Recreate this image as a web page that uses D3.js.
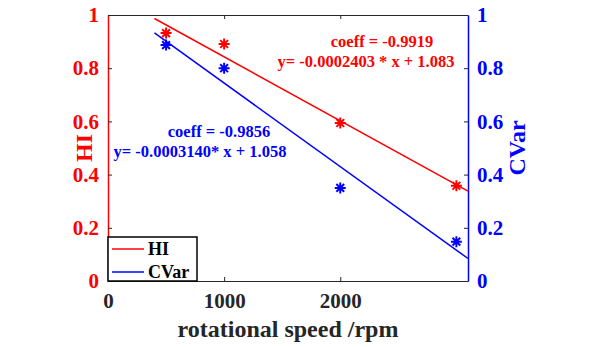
<!DOCTYPE html>
<html>
<head>
<meta charset="UTF-8" />
<title>HI and CVar vs rotational speed</title>
<style>
	html, body { margin: 0; padding: 0; background: #fff; overflow: hidden; }
	text { font-family: "Liberation Serif", "Times New Roman", serif; font-weight: bold; }
</style>
<script src="https://d3js.org/d3.v7.min.js"></script>
</head>
<body>
<svg></svg>
<script>
	// data
	const speed = [500, 1000, 2000, 3000];
	const hiValues = [0.932, 0.891, 0.594, 0.358];
	const cvarValues = [0.887, 0.800, 0.350, 0.148];
	const hiFit = { slope: -0.0002403, intercept: 1.083, coeff: -0.9919 };
	const cvarFit = { slope: -0.0003140, intercept: 1.058, coeff: -0.9856 };
	const fitRange = [400, 3100];
	const xTicks = [0, 1000, 2000];
	const yTicks = [0, 0.2, 0.4, 0.6, 0.8, 1];

	const width = 597, height = 347;
	const m = { left: 108, right: 129, top: 15, bottom: 66 };
	const RED = '#ff0000', BLUE = '#0000ff', DARK = '#262626';

	const svg = d3.select('svg').attr('width', width).attr('height', height);

	const x = d3.scaleLinear().domain([0, 3100]).range([m.left, width - m.right]);
	const yL = d3.scaleLinear().domain([0, 1]).range([height - m.bottom, m.top]);
	const yR = d3.scaleLinear().domain([0, 1]).range([height - m.bottom, m.top]);

	const fmt = d => d === 0 || d === 1 ? String(d) : d.toFixed(1);

	// bottom and top axes
	svg.append('g')
		.attr('transform', `translate(0,${height - m.bottom})`)
		.call(d3.axisBottom(x).tickValues(xTicks).tickFormat(d3.format('d')).tickSizeInner(-4).tickSizeOuter(0).tickPadding(12))
		.call(g => g.selectAll('text').attr('fill', DARK).style('font-size', '21px'))
		.call(g => g.selectAll('line, path').attr('stroke', DARK));
	svg.append('g')
		.attr('transform', `translate(0,${m.top})`)
		.call(d3.axisTop(x).tickValues(xTicks).tickSizeInner(-4).tickSizeOuter(0).tickFormat(''))
		.call(g => g.selectAll('line, path').attr('stroke', DARK));

	// left axis (HI)
	svg.append('g')
		.attr('transform', `translate(${m.left},0)`)
		.call(d3.axisLeft(yL).tickValues(yTicks).tickFormat(fmt).tickSizeInner(-4).tickSizeOuter(0).tickPadding(9))
		.call(g => g.select('path').attr('stroke', RED).attr('stroke-width', 1.5))
		.call(g => g.selectAll('line').attr('stroke', DARK))
		.call(g => g.selectAll('text').attr('fill', RED).style('font-size', '21px'));

	// right axis (CVar)
	svg.append('g')
		.attr('transform', `translate(${width - m.right},0)`)
		.call(d3.axisRight(yR).tickValues(yTicks).tickFormat(fmt).tickSizeInner(-4).tickSizeOuter(0).tickPadding(9))
		.call(g => g.select('path').attr('stroke', BLUE).attr('stroke-width', 1.5))
		.call(g => g.selectAll('line').attr('stroke', DARK))
		.call(g => g.selectAll('text').attr('fill', BLUE).style('font-size', '21px'));

	// axis titles
	svg.append('text')
		.attr('transform', `translate(92,${(m.top + height - m.bottom) / 2}) rotate(-90)`)
		.attr('text-anchor', 'middle').attr('fill', RED).style('font-size', '24px')
		.text('HI');
	svg.append('text')
		.attr('transform', `translate(525,${(m.top + height - m.bottom) / 2}) rotate(-90)`)
		.attr('text-anchor', 'middle').attr('fill', BLUE).style('font-size', '24px')
		.text('CVar');
	svg.append('text')
		.attr('x', 288).attr('y', 337)
		.attr('text-anchor', 'middle').attr('fill', DARK).style('font-size', '24px')
		.text('rotational speed /rpm');

	// fit lines
	const fitLine = (fit, y, color) => {
		svg.append('line')
			.attr('x1', x(fitRange[0])).attr('y1', y(fit.slope * fitRange[0] + fit.intercept))
			.attr('x2', x(fitRange[1])).attr('y2', y(fit.slope * fitRange[1] + fit.intercept))
			.attr('stroke', color).attr('stroke-width', 1.5);
	};
	fitLine(hiFit, yL, RED);
	fitLine(cvarFit, yR, BLUE);

	// 8-armed asterisk markers
	const r = 5.5, k = r * Math.SQRT1_2;
	const star = `M${-r},0H${r}M0,${-r}V${r}M${-k},${-k}L${k},${k}M${-k},${k}L${k},${-k}`;
	const markers = (vals, y, color) => {
		svg.append('g').selectAll('path')
			.data(vals).enter().append('path')
			.attr('d', star)
			.attr('transform', (d, i) => `translate(${x(speed[i])},${y(d)})`)
			.attr('fill', 'none').attr('stroke', color).attr('stroke-width', 2);
	};
	markers(hiValues, yL, RED);
	markers(cvarValues, yR, BLUE);

	// annotations
	const note = (t, cx, y, color) => {
		svg.append('text')
			.attr('x', cx).attr('y', y)
			.attr('text-anchor', 'middle').attr('fill', color).style('font-size', '16.5px')
			.text(t);
	};
	note(`coeff = ${hiFit.coeff}`, 382, 47, RED);
	note(`y= ${hiFit.slope.toFixed(7)} * x + ${hiFit.intercept}`, 366, 67, RED);
	note(`coeff = ${cvarFit.coeff}`, 219, 137, BLUE);
	note(`y= ${cvarFit.slope.toFixed(7)}* x + ${cvarFit.intercept}`, 200, 157, BLUE);

	// legend
	const lg = svg.append('g').attr('transform', `translate(${m.left},237)`);
	lg.append('rect').attr('width', 89).attr('height', 44)
		.attr('fill', '#fff').attr('stroke', '#000').attr('stroke-width', 1.5);
	[['HI', RED], ['CVar', BLUE]].forEach(([name, color], i) => {
		const yy = 12 + i * 23;
		lg.append('line').attr('x1', 4).attr('x2', 36).attr('y1', yy).attr('y2', yy)
			.attr('stroke', color).attr('stroke-width', 1.5);
		lg.append('text').attr('x', 40).attr('y', yy + 6)
			.attr('fill', '#000').style('font-size', '18px').text(name);
	});
</script>
</body>
</html>
